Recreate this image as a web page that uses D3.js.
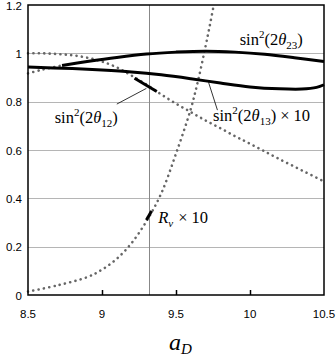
<!DOCTYPE html>
<meta charset="utf-8">
<title>mixing angles vs a_D</title>
<style>
body {
  margin: 0px;
  background: #fff;
}
svg {
  display: block;
}
.tick-label {
  font-family: "Liberation Sans", Arial, sans-serif;
  font-size: 11.5px;
  fill: #000;
}
.note {
  font-family: "Liberation Serif", "Times New Roman", serif;
  font-size: 16.5px;
  fill: #000;
}
path.dots {
  fill: none;
  stroke: #666;
  stroke-width: 2.6;
  stroke-linecap: round;
  stroke-dasharray: 0.1 5.3;
}
path.solid {
  fill: none;
  stroke: #000;
  stroke-width: 3;
}
</style>
<script src="https://d3js.org/d3.v7.min.js"></script>
<body>
<script>
var width = 336, height = 359;

// axis stuff
var xTicks = [8.5, 9, 9.5, 10, 10.5];
var xTickLabels = ["8.5", "9", "9.5", "10", "10.5"];
var yTicks = [0, 0.2, 0.4, 0.6, 0.8, 1, 1.2];
var yTickLabels = ["0", "0.2", "0.4", "0.6", "0.8", "1", "1.2"];
var markAD = 9.315;  // the chosen a_D (vertical line)

// sin^2(2 theta_23): dotted part then solid part
var th23DotX = [8.5, 8.6, 8.73];
var th23DotY = [0.917, 0.933, 0.95];
var th23X = [8.73, 8.9, 9.1, 9.3, 9.5, 9.7, 9.9, 10.1, 10.3, 10.5];
var th23Y = [0.95, 0.966, 0.983, 0.997, 1.005, 1.009, 1.005, 0.996, 0.982, 0.966];

// sin^2(2 theta_13) x 10
var th13X = [8.5, 8.8, 9.0, 9.2, 9.4, 9.6, 9.8, 10.0, 10.2, 10.35, 10.45, 10.5];
var th13Y = [0.943, 0.937, 0.931, 0.923, 0.911, 0.895, 0.877, 0.861, 0.853, 0.852, 0.859, 0.87];

// sin^2(2 theta_12)
var th12X = [8.5, 8.6, 8.7, 8.8, 8.9, 9.0, 9.1, 9.2, 9.3, 9.4, 9.5, 9.6, 9.7, 9.8, 9.9, 10.0, 10.2, 10.5];
var th12Y = [1.0, 1.0, 0.997, 0.992, 0.982, 0.966, 0.942, 0.908, 0.871, 0.83, 0.792, 0.757, 0.722, 0.69, 0.657, 0.626, 0.562, 0.47];
var th12MarkX = [9.22, 9.37];
var th12MarkY = [0.897, 0.842];

// R_nu x 10
var rnuX = [8.5, 8.7, 8.9, 9.0, 9.1, 9.2, 9.3, 9.4, 9.5, 9.6, 9.65, 9.7, 9.73, 9.755];
var rnuY = [0.014, 0.04, 0.074, 0.105, 0.15, 0.215, 0.305, 0.42, 0.585, 0.77, 0.89, 1.03, 1.12, 1.2];
var rnuMarkX = [9.30, 9.335];
var rnuMarkY = [0.31, 0.348];

var margin = {top: 5, right: 12, bottom: 64, left: 28};
var x = d3.scaleLinear().domain([8.5, 10.5]).range([margin.left, width - margin.right]);
var y = d3.scaleLinear().domain([0, 1.2]).range([height - margin.bottom, margin.top]);

var svg = d3.select("body").append("svg")
    .attr("width", width)
    .attr("height", height);

function pts(xs, ys) {
  return xs.map(function(d, i) { return [d, ys[i]]; });
}
var line = d3.line()
    .x(function(d) { return x(d[0]); })
    .y(function(d) { return y(d[1]); })
    .curve(d3.curveCatmullRom);

// grid
svg.append("g").selectAll("line")
    .data(yTicks.slice(1, -1))
  .enter().append("line")
    .attr("x1", x(8.5)).attr("x2", x(10.5))
    .attr("y1", function(d) { return Math.round(y(d)) + 0.5; })
    .attr("y2", function(d) { return Math.round(y(d)) + 0.5; })
    .attr("stroke", "#b5b5b5");
svg.append("line")
    .attr("x1", Math.round(x(markAD)) + 0.5).attr("x2", Math.round(x(markAD)) + 0.5)
    .attr("y1", y(1.2)).attr("y2", y(0))
    .attr("stroke", "#888");

// bottom ticks (inward)
svg.append("g").selectAll("line")
    .data(xTicks.slice(1, -1))
  .enter().append("line")
    .attr("x1", function(d) { return Math.round(x(d)) + 0.5; })
    .attr("x2", function(d) { return Math.round(x(d)) + 0.5; })
    .attr("y1", y(0)).attr("y2", y(0) - 5)
    .attr("stroke", "#000").attr("stroke-width", 1.5);

// curves
var plot = svg.append("g");
plot.append("path").attr("class", "dots").attr("d", line(pts(th12X, th12Y)));
plot.append("path").attr("class", "dots").attr("d", line(pts(rnuX, rnuY)));
plot.append("path").attr("class", "dots").attr("d", line(pts(th23DotX, th23DotY)));
plot.append("path").attr("class", "solid").attr("d", line(pts(th23X, th23Y)));
plot.append("path").attr("class", "solid").attr("d", line(pts(th13X, th13Y)));
plot.append("path").attr("class", "solid").attr("d", line(pts(th12MarkX, th12MarkY)));
plot.append("path").attr("class", "solid").attr("d", line(pts(rnuMarkX, rnuMarkY)));

// frame
svg.append("rect")
    .attr("x", x(8.5)).attr("y", y(1.2))
    .attr("width", x(10.5) - x(8.5)).attr("height", y(0) - y(1.2))
    .attr("fill", "none").attr("stroke", "#000").attr("stroke-width", 1.5);

// tick labels
svg.append("g").selectAll("text")
    .data(yTicks)
  .enter().append("text")
    .attr("class", "tick-label")
    .attr("x", x(8.5) - 6)
    .attr("y", function(d) { return y(d) + 4.5; })
    .attr("text-anchor", "end")
    .text(function(d, i) { return yTickLabels[i]; });
svg.append("g").selectAll("text")
    .data(xTicks)
  .enter().append("text")
    .attr("class", "tick-label")
    .attr("x", function(d) { return x(d); })
    .attr("y", y(0) + 23)
    .attr("text-anchor", "middle")
    .text(function(d, i) { return xTickLabels[i]; });

// leader lines
svg.append("line")
    .attr("x1", x(9.72)).attr("y1", y(0.88))
    .attr("x2", x(9.78)).attr("y2", y(0.765))
    .attr("stroke", "#000").attr("stroke-width", 0.8);
svg.append("line")
    .attr("x1", x(9.3)).attr("y1", y(0.855))
    .attr("x2", x(9.1)).attr("y2", y(0.79))
    .attr("stroke", "#000").attr("stroke-width", 0.8);

// math labels
function mathLabel(px, py, parts) {
  var t = svg.append("text").attr("class", "note").attr("x", px).attr("y", py);
  parts.forEach(function(p) {
    var s = t.append("tspan").text(p.t);
    if (p.i) s.attr("font-style", "italic");
    if (p.sup) s.attr("font-size", "11px").attr("dy", -7);
    if (p.sub) s.attr("font-size", "11px").attr("dy", 4);
    if (p.back) s.attr("dy", p.back);
    if (p.dx) s.attr("dx", p.dx);
  });
  return t;
}
mathLabel(x(9.93), y(1.035), [
  {t: "sin"}, {t: "2", sup: true}, {t: "(2", back: 7}, {t: "θ", i: true},
  {t: "23", sub: true}, {t: ")", back: -4}]);
mathLabel(x(9.75), y(0.72), [
  {t: "sin"}, {t: "2", sup: true}, {t: "(2", back: 7}, {t: "θ", i: true},
  {t: "13", sub: true}, {t: ")", back: -4}, {t: "×", dx: 4}, {t: "10", dx: 4}]);
mathLabel(x(8.68), y(0.71), [
  {t: "sin"}, {t: "2", sup: true}, {t: "(2", back: 7}, {t: "θ", i: true},
  {t: "12", sub: true}, {t: ")", back: -4}]);
mathLabel(x(9.38), y(0.3), [
  {t: "R", i: true}, {t: "ν", i: true, sub: true}, {t: "×", back: -4, dx: 5}, {t: "10", dx: 4}]);

// x title
var xt = svg.append("text").attr("class", "note")
    .attr("x", x(9.53)).attr("y", height - 9)
    .attr("text-anchor", "middle")
    .style("font-size", "24px");
xt.append("tspan").attr("font-style", "italic").text("a");
xt.append("tspan").attr("font-style", "italic").attr("font-size", "15px").attr("dy", 4).text("D");
</script>
</body>
